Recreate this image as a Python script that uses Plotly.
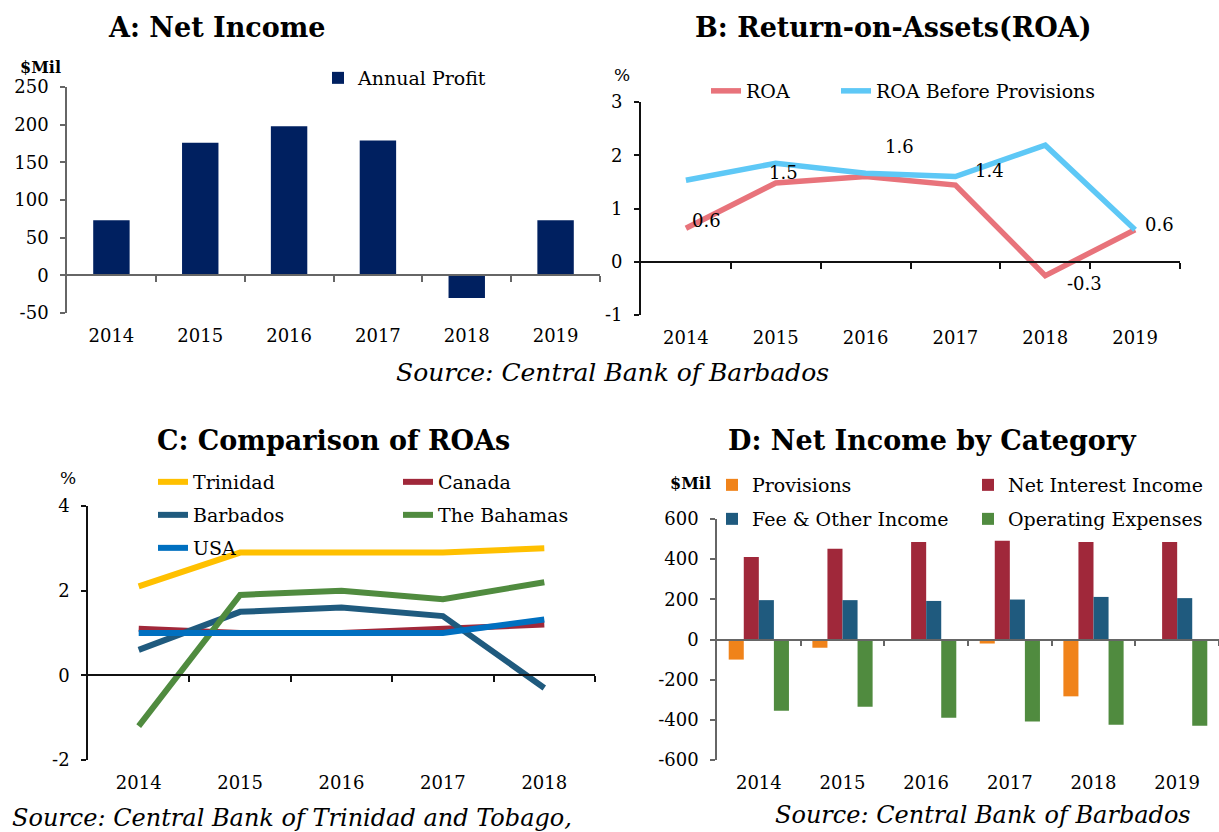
import plotly.graph_objects as go

# ---------------- data ----------------
years = ["2014", "2015", "2016", "2017", "2018", "2019"]
annual_profit = [73, 176, 198, 179, -30, 73]

roa = [0.63, 1.48, 1.60, 1.44, -0.26, 0.60]
roa_before_provisions = [1.53, 1.85, 1.66, 1.60, 2.19, 0.60]

years_c = ["2014", "2015", "2016", "2017", "2018"]
roa_trinidad = [2.1, 2.9, 2.9, 2.9, 3.0]
roa_canada = [1.1, 1.0, 1.0, 1.1, 1.2]
roa_barbados = [0.6, 1.5, 1.6, 1.4, -0.3]
roa_bahamas = [-1.2, 1.9, 2.0, 1.8, 2.2]
roa_usa = [1.0, 1.0, 1.0, 1.0, 1.32]

provisions = [-100, -41, -5, -20, -283, 0]
net_interest_income = [411, 452, 486, 492, 486, 486]
fee_other_income = [196, 196, 192, 199, 212, 206]
operating_expenses = [-355, -335, -390, -408, -424, -429]

ticks_a = [-50, 0, 50, 100, 150, 200, 250]
ticks_b = [-1, 0, 1, 2, 3]
ticks_c = [-2, 0, 2, 4]
ticks_d = [-600, -400, -200, 0, 200, 400, 600]

# ---------------- layout helpers ----------------
W, H = 1219, 832
FONT = "DejaVu Serif"


def fx(p):
    return p / W


def fy(p):
    return 1 - p / H


# panel boxes in pixels: left, right, top, bottom
box = {
    "A": (67, 600, 87, 313),
    "B": (641, 1180, 102, 315),
    "C": (88, 595, 506, 760),
    "D": (717, 1219, 519, 760),
}
rng = {"A": ticks_a, "B": ticks_b, "C": ticks_c, "D": ticks_d}
axis_color = {"A": "#666666", "B": "#111111", "C": "#111111", "D": "#666666"}
axis_width = {"A": 1.6, "B": 1.8, "C": 1.6, "D": 1.6}

fig = go.Figure()

# Panel A
fig.add_trace(go.Bar(x=years, y=annual_profit, name="Annual Profit",
                     marker=dict(color="#002060", line=dict(width=0)),
                     width=0.41, xaxis="x", yaxis="y", legend="legend"))

# Panel B
fig.add_trace(go.Scatter(x=years, y=roa, name="ROA", mode="lines",
                         line=dict(color="#E8737B", width=5.5), legendwidth=85,
                         xaxis="x2", yaxis="y2", legend="legend2"))
fig.add_trace(go.Scatter(x=years, y=roa_before_provisions, name="ROA Before Provisions",
                         mode="lines", line=dict(color="#5EC8F6", width=5.5),
                         xaxis="x2", yaxis="y2", legend="legend2"))

# Panel C
c_series = [
    ("Trinidad", roa_trinidad, "#FFC000", "legend3", 200),
    ("Canada", roa_canada, "#A0283A", "legend3", None),
    ("Barbados", roa_barbados, "#1F5A7E", "legend4", 200),
    ("The Bahamas", roa_bahamas, "#508B3F", "legend4", None),
    ("USA", roa_usa, "#0070C0", "legend5", None),
]
for name, vals, col, leg, lw in c_series:
    fig.add_trace(go.Scatter(x=years_c, y=vals, name=name, mode="lines",
                             line=dict(color=col, width=6), legendwidth=lw,
                             xaxis="x3", yaxis="y3", legend=leg))

# Panel D
d_series = [
    ("Provisions", provisions, "#F0831A", "legend6", 211),
    ("Net Interest Income", net_interest_income, "#A0283A", "legend6", None),
    ("Fee & Other Income", fee_other_income, "#1F5A7E", "legend7", 211),
    ("Operating Expenses", operating_expenses, "#508B3F", "legend7", None),
]
for name, vals, col, leg, lw in d_series:
    fig.add_trace(go.Bar(x=years, y=vals, name=name, legendwidth=lw,
                         marker=dict(color=col, line=dict(width=0)),
                         xaxis="x4", yaxis="y4", legend=leg))

tickfont = dict(family=FONT, size=18, color="black")
layout = dict(
    template="none", showlegend=True,
    width=W, height=H, margin=dict(l=0, r=0, t=0, b=0, autoexpand=False),
    paper_bgcolor="white", plot_bgcolor="white",
    font=dict(family=FONT, size=18, color="black"),
    barmode="group", bargap=0.28, bargroupgap=0,
)

panels = [("A", "", years), ("B", "2", years), ("C", "3", years_c), ("D", "4", years)]
for i, (key, sfx, cats) in enumerate(panels):
    l, r, t, b = box[key]
    ticks = rng[key]
    ac, aw = axis_color[key], axis_width[key]
    ydom = [fy(b), fy(t)]
    layout["xaxis" + sfx] = dict(
        domain=[fx(l), min(fx(r), 1.0)], anchor="y" + sfx, type="category",
        showline=False, ticks="", showgrid=False, zeroline=False, automargin=False,
        tickfont=tickfont, ticklabelstandoff=10,
        range=[-0.5, len(cats) - 0.5], autorange=False,
    )
    layout["yaxis" + sfx] = dict(
        domain=ydom, anchor="x" + sfx, range=[ticks[0], ticks[-1]], autorange=False,
        tickvals=ticks, ticktext=[str(v) for v in ticks], automargin=False,
        showline=True, linecolor=ac, linewidth=aw,
        ticks="outside", ticklen=5, tickcolor=ac, tickwidth=aw,
        showgrid=False, zeroline=False, tickfont=tickfont, ticklabelstandoff=8,
    )
    # zero-level axis line with ticks between categories
    zid = str(5 + i)
    zpos = ydom[0] + (0 - ticks[0]) / (ticks[-1] - ticks[0]) * (ydom[1] - ydom[0])
    layout["xaxis" + zid] = dict(
        overlaying="x" + sfx, anchor="free", position=zpos, automargin=False,
        range=[-0.5, len(cats) - 0.5], autorange=False, type="linear",
        tickvals=[k + 0.5 for k in range(len(cats))],
        showticklabels=False, showline=True, linecolor=ac, linewidth=aw,
        ticks="outside", ticklen=6, tickcolor=ac, tickwidth=aw,
        showgrid=False, zeroline=False,
    )
    # empty helper trace so the zero-level axis is paired with this panel's y axis
    fig.add_trace(go.Scatter(x=[], y=[], xaxis="x" + zid, yaxis="y" + sfx,
                             showlegend=False, hoverinfo="skip"))

legfont = dict(family=FONT, size=19, color="black")


def leg(xp, yp):
    return dict(x=fx(xp), y=fy(yp), xanchor="left", yanchor="middle",
                orientation="h", font=legfont, bgcolor="rgba(0,0,0,0)",
                traceorder="normal", itemclick=False, itemdoubleclick=False)


layout["legend"] = leg(318, 78)
layout["legend2"] = leg(706, 91)
layout["legend3"] = leg(153, 482)
layout["legend4"] = leg(153, 515)
layout["legend5"] = leg(153, 548)
layout["legend6"] = leg(712, 485)
layout["legend7"] = leg(712, 519)

ann = []


def text(xp, yp, s, size, bold=False, italic=False, xanchor="center"):
    st = s
    if bold:
        st = "<b>" + st + "</b>"
    if italic:
        st = "<i>" + st + "</i>"
    ann.append(dict(x=fx(xp), y=fy(yp), xref="paper", yref="paper", text=st,
                    showarrow=False, xanchor=xanchor, yanchor="middle",
                    font=dict(family=FONT, size=size, color="black")))


text(217, 27, "A: Net Income", 27, bold=True)
text(893, 27, "B: Return-on-Assets(ROA)", 27, bold=True)
text(333, 440, "C: Comparison of ROAs", 27, bold=True)
text(932, 440, "D: Net Income by Category", 27, bold=True)
text(40, 67, "$Mil", 16, bold=True)
text(622, 75, "%", 17)
text(68, 478, "%", 17)
text(690, 483, "$Mil", 16, bold=True)
text(612, 372, "Source: Central Bank of Barbados", 25, italic=True)
text(10, 818, "Source: Central Bank of Trinidad and Tobago,", 24, italic=True, xanchor="left")
text(983, 815, "Source: Central Bank of Barbados", 24, italic=True)

# ROA data labels (manually placed as in the original); category axis -> index positions
label_shifts = [(21, 8), (8, 10), (34, 30), (34, 15), (39, -8), (24, 5)]
for k, (v, (dx, dy)) in enumerate(zip(roa, label_shifts)):
    ann.append(dict(x=k, y=v, xref="x2", yref="y2", text=f"{v:.1f}",
                    showarrow=False, xshift=dx, yshift=dy,
                    font=dict(family=FONT, size=18, color="black")))

layout["annotations"] = ann
fig.update_layout(**layout)
fig.write_html("out.html", config={"displayModeBar": False},
               post_script="document.body.style.margin='0px';")
